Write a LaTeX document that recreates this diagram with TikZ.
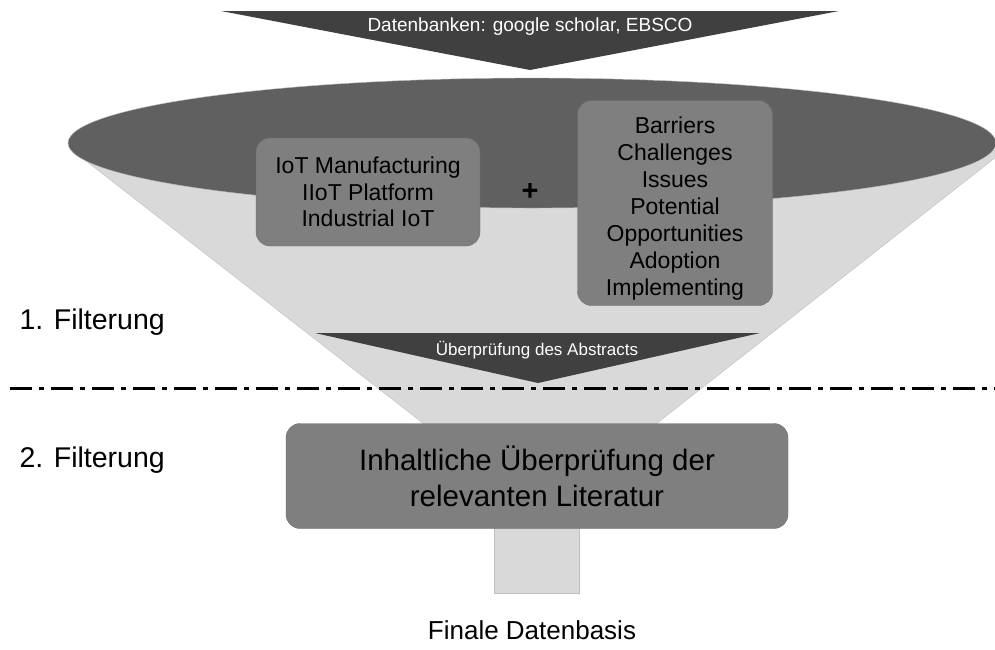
\documentclass[tikz,border=0pt]{standalone}
\usepackage{fontspec}
\setmainfont{Liberation Sans}
\usetikzlibrary{positioning}

\definecolor{funnelgray}{HTML}{D9D9D9}
\definecolor{funneledge}{HTML}{BFBFBF}
\definecolor{rimgray}{HTML}{606060}
\definecolor{arrowgray}{HTML}{404040}
\definecolor{boxgray}{HTML}{7F7F7F}
\definecolor{boxedge}{HTML}{6E6E6E}

\tikzset{
  termbox/.style={draw=boxedge, fill=boxgray, rounded corners=14pt, align=center, inner sep=0pt},
  stagelabel/.style={anchor=west, font=\fontsize{28.5}{32}\selectfont},
  arrowtext/.style={text=white, inner sep=0pt}
}

\begin{document}
\begin{tikzpicture}[x=1pt,y=-1pt]
\useasboundingbox (0,0) rectangle (995,649);

 % funnel body and stem
 \filldraw[fill=funnelgray, draw=funneledge] (72,150) -- (1005,150) -- (656,424) -- (424,424) -- cycle;
 \filldraw[fill=funnelgray, draw=funneledge] (494,520) rectangle (579,593);

 % rim of the funnel
 \filldraw[fill=rimgray, draw=funneledge] (532,143) ellipse (464 and 65);

 % sources arrow
 \fill[arrowgray] (221,11) -- (839,11) -- (530,70) -- cycle;
 \node[arrowtext, font=\fontsize{19}{19}\selectfont] (sources) at (530,27) {Datenbanken: google scholar, EBSCO};

 \node[termbox, minimum width=224pt, minimum height=108pt, font=\fontsize{23}{26.5}\selectfont] (keywords) at (368,192)
   {IoT Manufacturing\\IIoT Platform\\Industrial IoT};
 \node[font=\bfseries\fontsize{29}{29}\selectfont] (plus) at (530,192) {+};
 \node[termbox, minimum width=195pt, minimum height=205pt] (aspects) at (675,203) {};
 \node[align=center, inner sep=0pt, font=\fontsize{23}{27}\selectfont] (aspectlist) at ([yshift=-6pt]aspects.center)
   {Barriers\\Challenges\\Issues\\Potential\\Opportunities\\Adoption\\Implementing};

 % abstract check
 \fill[arrowgray] (315,333) -- (760,333) -- (538,383) -- cycle;
 \node[arrowtext, font=\fontsize{17}{17}\selectfont] (abstracts) at (537,350) {Überprüfung des Abstracts};

 \draw[line width=3pt, dash pattern=on 22pt off 7pt on 5pt off 7pt] (10,388) -- (995,388);

 \node[termbox, minimum width=502pt, minimum height=105pt, font=\fontsize{29.5}{36}\selectfont] (review) at (537,476)
   {Inhaltliche Überprüfung der\\relevanten Literatur};

 \node[stagelabel] (first) at (16,322) {1. Filterung};
 \node[stagelabel] (second) at (16,460) {2. Filterung};

 \node[font=\fontsize{26}{26}\selectfont] (result) at (532,630) {Finale Datenbasis};

\end{tikzpicture}
\end{document}
